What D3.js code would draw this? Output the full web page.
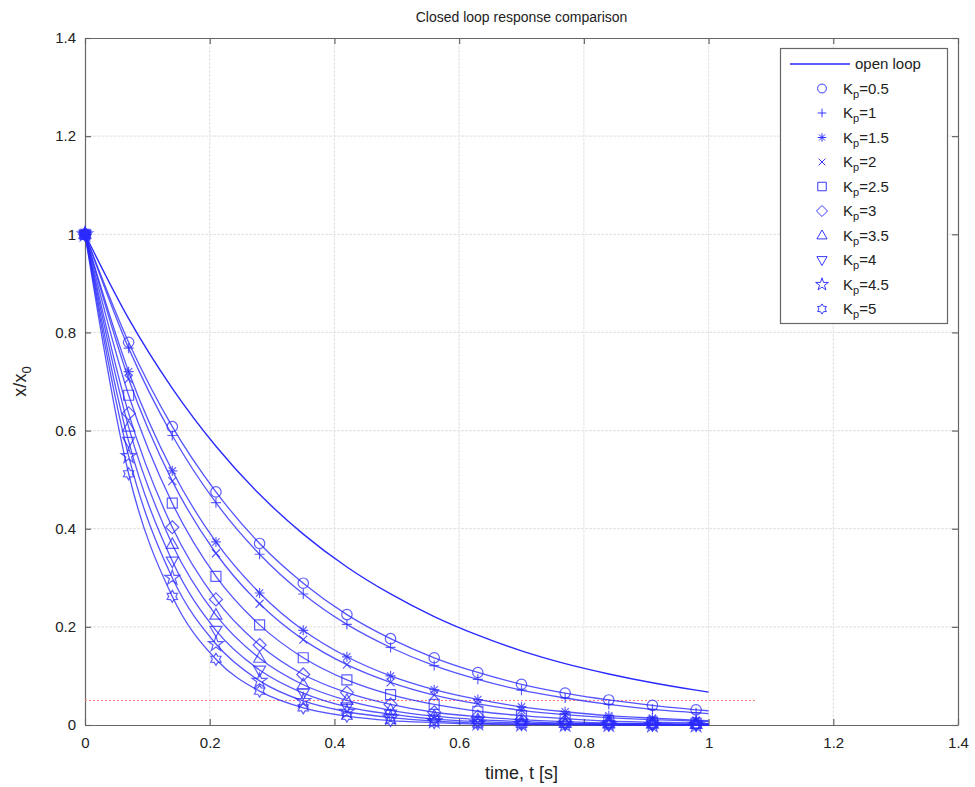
<!DOCTYPE html>
<html><head><meta charset="utf-8">
<script src="https://cdn.jsdelivr.net/npm/d3@7"></script>
<style>
html,body{margin:0;padding:0;background:#fff;}
svg{display:block;font-family:"Liberation Sans",Arial,sans-serif;}
</style></head>
<body>
<svg id="chart" width="975" height="787"></svg>
<script>
// time samples (last point t=1.0 has no marker)
const times = [0,0.07,0.14,0.21,0.28,0.35,0.42,0.49,0.56,0.63,0.70,0.77,0.84,0.91,0.98,1.0];
const openLoop = [1,0.828,0.686,0.568,0.470,0.389,0.322,0.267,0.221,0.183,0.151,0.125,0.104,0.086,0.071,0.067];
const kpLabels = ["0.5","1","1.5","2","2.5","3","3.5","4","4.5","5"];
const kpMarkers = ["circle","plus","asterisk","x","square","diamond","triangleUp","triangleDown","pentagram","hexagram"];
const kp05 = [1,0.780,0.608,0.475,0.370,0.289,0.225,0.176,0.137,0.107,0.083,0.065,0.051,0.040,0.031,0.029];
const kp10 = [1,0.768,0.590,0.453,0.348,0.267,0.205,0.158,0.121,0.093,0.071,0.055,0.042,0.032,0.025,0.023];
const kp15 = [1,0.720,0.518,0.373,0.269,0.193,0.139,0.100,0.072,0.052,0.037,0.027,0.019,0.014,0.010,0.009];
const kp20 = [1,0.705,0.497,0.350,0.247,0.174,0.123,0.087,0.061,0.043,0.030,0.021,0.015,0.011,0.008,0.007];
const kp25 = [1,0.672,0.452,0.303,0.204,0.137,0.092,0.062,0.042,0.028,0.019,0.013,0.008,0.006,0.004,0.003];
const kp30 = [1,0.635,0.403,0.256,0.163,0.103,0.066,0.042,0.026,0.017,0.011,0.007,0.004,0.003,0.002,0.002];
const kp35 = [1,0.607,0.368,0.224,0.136,0.082,0.050,0.030,0.018,0.011,0.007,0.004,0.003,0.002,0.001,0.001];
const kp40 = [1,0.578,0.334,0.193,0.112,0.065,0.037,0.022,0.012,0.007,0.004,0.002,0.001,0.001,0.000,0.000];
const kp45 = [1,0.548,0.300,0.165,0.090,0.049,0.027,0.015,0.008,0.004,0.002,0.001,0.001,0.000,0.000,0.000];
const kp50 = [1,0.512,0.262,0.134,0.069,0.035,0.018,0.009,0.005,0.002,0.001,0.001,0.000,0.000,0.000,0.000];
const kpSeries = [kp05,kp10,kp15,kp20,kp25,kp30,kp35,kp40,kp45,kp50];
const xTicks = [0,0.2,0.4,0.6,0.8,1,1.2,1.4];
const yTicks = [0,0.2,0.4,0.6,0.8,1,1.2,1.4];
const thresholdValue = 0.05;
const thresholdEnd = 1.075;

const W=975,H=787, m={left:85,right:17,top:38,bottom:62};
const svg=d3.select("#chart");
const x=d3.scaleLinear().domain([0,1.4]).range([m.left,W-m.right]);
const y=d3.scaleLinear().domain([0,1.4]).range([H-m.bottom,m.top]);
const blue="#2a2aff";

// grid
const g=svg.append("g");
g.selectAll(".gx").data(xTicks.slice(1,-1)).join("line")
  .attr("x1",d=>x(d)).attr("x2",d=>x(d)).attr("y1",y(0)).attr("y2",y(1.4))
  .attr("stroke","#e6e6e6").attr("stroke-dasharray","3,1").attr("stroke-width",1.2);
g.selectAll(".gy").data(yTicks.slice(1,-1)).join("line")
  .attr("y1",d=>y(d)).attr("y2",d=>y(d)).attr("x1",x(0)).attr("x2",x(1.4))
  .attr("stroke","#e6e6e6").attr("stroke-dasharray","3,1").attr("stroke-width",1.2);

// axes (box with inward ticks)
const axB=d3.axisBottom(x).tickValues(xTicks).tickFormat(d3.format("~g")).tickSizeInner(-6).tickSizeOuter(0).tickPadding(12);
const axL=d3.axisLeft(y).tickValues(yTicks).tickFormat(d3.format("~g")).tickSizeInner(-6).tickSizeOuter(0).tickPadding(9);
const axT=d3.axisTop(x).tickValues(xTicks).tickFormat("").tickSizeInner(-6).tickSizeOuter(0);
const axR=d3.axisRight(y).tickValues(yTicks).tickFormat("").tickSizeInner(-6).tickSizeOuter(0);
function styleAx(sel){sel.selectAll("path,line").attr("stroke","#666").attr("stroke-width",1.2);sel.selectAll("text").attr("fill","#222").style("font-size","15px");}
svg.append("g").attr("transform",`translate(0,${y(0)})`).call(axB).call(styleAx);
svg.append("g").attr("transform",`translate(${x(0)},0)`).call(axL).call(styleAx);
svg.append("g").attr("transform",`translate(0,${y(1.4)})`).call(axT).call(styleAx);
svg.append("g").attr("transform",`translate(${x(1.4)},0)`).call(axR).call(styleAx);

// threshold
svg.append("line").attr("x1",x(0)).attr("x2",x(thresholdEnd)).attr("y1",y(thresholdValue)).attr("y2",y(thresholdValue))
  .attr("stroke","#ff7a7a").attr("stroke-width",1).attr("stroke-dasharray","2,2");

// markers
function markerPath(type){
  const s=5;
  switch(type){
    case "circle": return d3.symbol(d3.symbolCircle,85)();
    case "plus": return `M${-s},0H${s}M0,${-s}V${s}`;
    case "asterisk": {const a=s*0.72;return `M${-s},0H${s}M0,${-s}V${s}M${-a},${-a}L${a},${a}M${-a},${a}L${a},${-a}`;}
    case "x": {const a=4;return `M${-a},${-a}L${a},${a}M${-a},${a}L${a},${-a}`;}
    case "square": return `M-5,-5h10v10h-10z`;
    case "diamond": return `M0,-6.5L6.5,0L0,6.5L-6.5,0Z`;
    case "triangleUp": return `M0,-6.5L6,4L-6,4Z`;
    case "triangleDown": return `M0,6.5L6,-4L-6,-4Z`;
    case "pentagram": return d3.symbol(d3.symbolStar,70)();
    case "hexagram": {
      let p="";const R=6,r=3.6;
      for(let i=0;i<12;i++){const ang=-Math.PI/2+i*Math.PI/6;const rr=i%2?r:R;p+=(i?"L":"M")+(rr*Math.cos(ang)).toFixed(2)+","+(rr*Math.sin(ang)).toFixed(2);}
      return p+"Z";
    }
  }
}

const line=d3.line().x((d,i)=>x(times[i])).y(d=>y(d)).curve(d3.curveMonotoneX);
const plot=svg.append("g");
plot.append("path").attr("d",line(openLoop)).attr("fill","none").attr("stroke",blue).attr("stroke-width",1.4);
kpSeries.forEach((vals,k)=>{
  plot.append("path").attr("d",line(vals)).attr("fill","none").attr("stroke",blue).attr("stroke-width",1.3).attr("stroke-opacity",0.8);
  const mp=markerPath(kpMarkers[k]);
  plot.selectAll(null).data(vals.slice(0,15)).join("path")
    .attr("d",mp).attr("transform",(d,i)=>`translate(${x(times[i])},${y(d)})`)
    .attr("fill",kpMarkers[k]==="asterisk"?blue:"none").attr("fill-opacity",0.35)
    .attr("stroke",blue).attr("stroke-width",1.2).attr("stroke-opacity",0.75);
});
// dense start point blob
plot.append("circle").attr("cx",x(times[0])).attr("cy",y(kp05[0])).attr("r",5).attr("fill",blue);

// title & labels
svg.append("text").attr("x",(x(0)+x(1.4))/2).attr("y",22).attr("text-anchor","middle")
  .style("font-size","14px").attr("fill","#222").text("Closed loop response comparison");
svg.append("text").attr("x",(x(0)+x(1.4))/2).attr("y",779).attr("text-anchor","middle")
  .style("font-size","18px").attr("fill","#222").text("time, t [s]");
const yl=svg.append("text").attr("transform",`translate(26,${(y(0)+y(1.4))/2}) rotate(-90)`).attr("text-anchor","middle")
  .style("font-size","18px").attr("fill","#222");
yl.append("tspan").text("x/x");
yl.append("tspan").attr("dy",5).style("font-size","13px").text("0");

// legend
const lg=svg.append("g");
lg.append("rect").attr("x",780.5).attr("y",48.5).attr("width",167).attr("height",275)
  .attr("fill","#fff").attr("stroke","#666").attr("stroke-width",1.2);
const rowY=i=>64+i*24.5;
lg.append("line").attr("x1",790).attr("x2",850).attr("y1",rowY(0)).attr("y2",rowY(0)).attr("stroke",blue).attr("stroke-width",1.3);
lg.append("text").attr("x",855).attr("y",rowY(0)+5).style("font-size","15px").attr("fill","#222").text("open loop");
kpLabels.forEach((lab,k)=>{
  const yy=rowY(k+1);
  lg.append("path").attr("d",markerPath(kpMarkers[k])).attr("transform",`translate(822,${yy}) scale(0.85)`)
    .attr("fill",kpMarkers[k]==="asterisk"?blue:"none").attr("fill-opacity",0.35).attr("stroke",blue).attr("stroke-width",1.1);
  const t=lg.append("text").attr("x",843).attr("y",yy+5).style("font-size","15px").attr("fill","#222");
  t.append("tspan").text("K");
  t.append("tspan").attr("dy",4).style("font-size","11px").text("p");
  t.append("tspan").attr("dy",-4).text("="+lab);
});
</script>
</body></html>
